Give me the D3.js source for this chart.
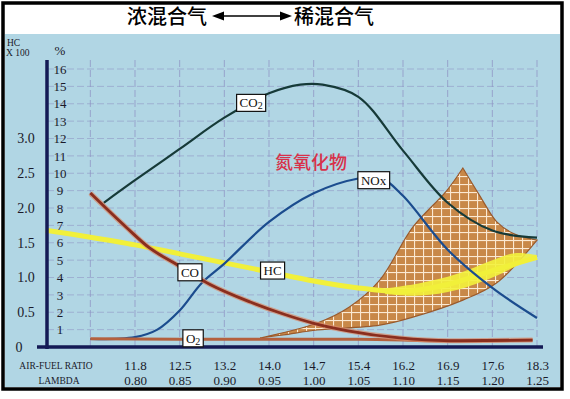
<!DOCTYPE html>
<html>
<head>
<meta charset="utf-8">
<script src="https://cdn.jsdelivr.net/npm/d3@7"></script>
<style>
body { margin: 0; background: #fff; }
svg { display: block; }
</style>
</head>
<body>
<svg id="chart" width="570" height="399"></svg>
<script>
// tick labels
const afrLabels = ['11.8', '12.5', '13.2', '14.0', '14.7', '15.4', '16.2', '16.9', '17.6', '18.3'];
const lambdaTicks = [0.80, 0.85, 0.90, 0.95, 1.00, 1.05, 1.10, 1.15, 1.20, 1.25];
const pctTicks = [1, 2, 3, 4, 5, 6, 7, 8, 9, 10, 11, 12, 13, 14, 15, 16];
const hcTicks = [0.5, 1.0, 1.5, 2.0, 2.5, 3.0];

// curves: [lambda, percent]
const co2 = [[0.765, 8.3], [0.80, 9.6], [0.85, 11.4], [0.90, 13.2], [0.95, 14.6], [0.985, 15.1],
	[1.01, 15.1], [1.05, 14.4], [1.10, 11.3], [1.15, 8.3], [1.20, 6.7], [1.25, 6.3]];
const nox = [[0.75, 0.46], [0.80, 0.57], [0.825, 1.0], [0.85, 2.1], [0.875, 3.7], [0.90, 4.8],
	[0.95, 7.2], [1.00, 8.85], [1.05, 9.7], [1.075, 9.75], [1.10, 8.7], [1.15, 5.6], [1.20, 3.4], [1.25, 1.67]];
const co = [[0.75, 8.86], [0.791, 6.85], [0.817, 5.67], [0.843, 4.86], [0.884, 3.6], [0.929, 2.59],
	[0.966, 1.9], [0.999, 1.38], [1.04, 0.92], [1.096, 0.52], [1.152, 0.36], [1.245, 0.40]];
const o2 = [[0.75, 0.48], [0.85, 0.45], [0.95, 0.45], [1.05, 0.45], [1.15, 0.35], [1.245, 0.4]];
// HC in units of x100
const hc = [[0.70, 1.68], [0.75, 1.58], [0.80, 1.47], [0.85, 1.34], [0.90, 1.21], [0.95, 1.08],
	[1.00, 0.95], [1.05, 0.85], [1.10, 0.80], [1.15, 0.90], [1.20, 1.10], [1.25, 1.29]];
const hcUpper = [[1.08, 0.84], [1.12, 0.92], [1.16, 1.05], [1.20, 1.25], [1.225, 1.35], [1.25, 1.32]];
const hcLower = [[1.08, 0.76], [1.12, 0.74], [1.16, 0.82], [1.20, 1.00], [1.225, 1.15], [1.25, 1.29]];
// NOx spread band (percent)
const bandTop = [[0.94, 0.52], [1.004, 1.38], [1.04, 2.3], [1.074, 3.85], [1.111, 6.9], [1.149, 9.0], [1.167, 10.3]];
const bandRight = [[1.167, 10.3], [1.186, 8.7], [1.205, 7.2], [1.223, 6.55], [1.25, 6.15]];
const bandBottom = [[1.25, 6.15], [1.205, 3.7], [1.167, 2.7], [1.111, 1.72], [1.074, 1.26], [1.004, 0.98], [0.966, 0.69], [0.94, 0.52]];

const boxLabels = [
	{ name: 'CO', sub: '2', at: [0.930, 14.05] },
	{ name: 'NOx', sub: '', at: [1.067, 9.6] },
	{ name: 'CO', sub: '', at: [0.8615, 4.3] },
	{ name: 'HC', sub: '', at: [0.954, 4.4] },
	{ name: 'O', sub: '2', at: [0.865, 0.5] }
];

const svg = d3.select('#chart');
const serif = 'Liberation Serif, DejaVu Serif, serif';
const cjk = 'Noto Sans CJK SC, sans-serif';

let x = d3.scaleLinear().domain([0.80, 1.25]).range([135, 537]);
let y = d3.scaleLinear().domain([0, 16]).range([347, 69]);
let yHC = d3.scaleLinear().domain([0, 4]).range([347, 69]);

// frame + panels
svg.append('rect').attr('x', 3).attr('y', 3).attr('width', 559).attr('height', 386)
	.attr('fill', '#fff').attr('stroke', '#000').attr('stroke-width', 3.5);
svg.append('rect').attr('x', 5).attr('y', 34).attr('width', 555).attr('height', 353)
	.attr('fill', '#b1d6e4');

// header
svg.append('text').attr('x', 167).attr('y', 24).attr('text-anchor', 'middle')
	.style('font-family', cjk).style('font-size', '20px').style('font-weight', 500)
	.text('浓混合气');
svg.append('text').attr('x', 334).attr('y', 24).attr('text-anchor', 'middle')
	.style('font-family', cjk).style('font-size', '20px').style('font-weight', 500)
	.text('稀混合气');
svg.append('line').attr('x1', 222).attr('x2', 282).attr('y1', 16).attr('y2', 16)
	.attr('stroke', '#000').attr('stroke-width', 1.5);
svg.append('path').attr('d', 'M212,16 L224,11.5 L224,20.5 Z').attr('fill', '#000');
svg.append('path').attr('d', 'M292,16 L280,11.5 L280,20.5 Z').attr('fill', '#000');

// grid
const gridLam = [0.75].concat(lambdaTicks);
svg.append('g').selectAll('line').data(gridLam).enter().append('line')
	.attr('x1', d => x(d)).attr('x2', d => x(d))
	.attr('y1', 60).attr('y2', y(0))
	.attr('stroke', '#8f93c4').attr('stroke-width', 1).attr('stroke-dasharray', '7,3').attr('opacity', 0.75);
svg.append('g').selectAll('line').data(pctTicks).enter().append('line')
	.attr('x1', 47).attr('x2', x(1.25))
	.attr('y1', d => y(d)).attr('y2', d => y(d))
	.attr('stroke', '#8f93c4').attr('stroke-width', 1).attr('stroke-dasharray', '7,3').attr('opacity', 0.55);

// hatched band
const defs = svg.append('defs');
const pat = defs.append('pattern').attr('id', 'hatch').attr('patternUnits', 'userSpaceOnUse')
	.attr('width', 9).attr('height', 8);
pat.append('rect').attr('width', 9).attr('height', 8).attr('fill', '#c88848');
pat.append('line').attr('x1', 0.5).attr('x2', 0.5).attr('y1', 0).attr('y2', 8).attr('stroke', '#fbe9d2').attr('stroke-width', 1.2);
pat.append('line').attr('x1', 0).attr('x2', 9).attr('y1', 0.5).attr('y2', 0.5).attr('stroke', '#fbe9d2').attr('stroke-width', 1.2);

const smooth = d3.line().x(d => x(d[0])).y(d => y(d[1])).curve(d3.curveCatmullRom.alpha(0.5));
const mono = d3.line().x(d => x(d[0])).y(d => y(d[1])).curve(d3.curveMonotoneX);
const smoothHC = d3.line().x(d => x(d[0])).y(d => yHC(d[1])).curve(d3.curveCatmullRom.alpha(0.5));

let bandPath = smooth(bandTop) + smooth(bandRight).replace(/^M/, 'L') + smooth(bandBottom).replace(/^M/, 'L') + 'Z';
svg.append('path').attr('d', bandPath).attr('fill', 'url(#hatch)')
	.attr('stroke', '#9a5a2c').attr('stroke-width', 1.2);

// HC
svg.append('path')
	.attr('d', smoothHC(hcUpper) + smoothHC(hcLower.slice().reverse()).replace(/^M/, 'L') + 'Z')
	.attr('fill', '#f3f23c').attr('opacity', 0.9);
svg.append('path').attr('d', smoothHC(hc)).attr('fill', 'none')
	.attr('stroke', '#f1f03a').attr('stroke-width', 5);

// CO2, NOx
svg.append('path').attr('d', smooth(co2)).attr('fill', 'none')
	.attr('stroke', '#163a38').attr('stroke-width', 2.2);
svg.append('path').attr('d', smooth(nox)).attr('fill', 'none')
	.attr('stroke', '#1b4c8e').attr('stroke-width', 2.2);

// O2, CO
svg.append('path').attr('d', mono(o2)).attr('fill', 'none')
	.attr('stroke', '#b4613e').attr('stroke-width', 3);
svg.append('path').attr('d', mono(co)).attr('fill', 'none')
	.attr('stroke', '#d88a6a').attr('stroke-width', 5).attr('opacity', 0.7);
svg.append('path').attr('d', mono(co)).attr('fill', 'none')
	.attr('stroke', '#8a2e1e').attr('stroke-width', 2.8);

// axes lines
svg.append('line').attr('x1', 47).attr('x2', 47).attr('y1', 60).attr('y2', 349)
	.attr('stroke', '#141a55').attr('stroke-width', 3.5);
svg.append('line').attr('x1', 37).attr('x2', 543).attr('y1', y(0)).attr('y2', y(0))
	.attr('stroke', '#141a55').attr('stroke-width', 3.5);

// y axis labels
let pctAxis = svg.append('g').attr('transform', 'translate(67,0)')
	.call(d3.axisLeft(y).tickValues(pctTicks).tickSize(0).tickFormat(d3.format('d')));
pctAxis.select('.domain').remove();
pctAxis.selectAll('text').attr('text-anchor', 'middle').attr('x', -7)
	.style('font-family', serif).style('font-size', '13px').attr('fill', '#1a1a2a');

let hcAxis = svg.append('g').attr('transform', 'translate(26,0)')
	.call(d3.axisLeft(yHC).tickValues(hcTicks).tickSize(0).tickFormat(d3.format('.1f')));
hcAxis.select('.domain').remove();
hcAxis.selectAll('text').attr('text-anchor', 'middle').attr('x', 0)
	.style('font-family', serif).style('font-size', '14px').attr('fill', '#1a1a2a');

svg.append('text').attr('x', 19).attr('y', 352).attr('text-anchor', 'middle')
	.style('font-family', serif).style('font-size', '14px').attr('fill', '#1a1a2a').text('0');
svg.append('text').attr('x', 60).attr('y', 55).attr('text-anchor', 'middle')
	.style('font-family', serif).style('font-size', '13px').attr('fill', '#1a1a2a').text('%');
svg.append('text').attr('x', 7).attr('y', 46)
	.style('font-family', serif).style('font-size', '9.5px').attr('fill', '#1a1a2a').text('HC');
svg.append('text').attr('x', 6).attr('y', 56)
	.style('font-family', serif).style('font-size', '9.5px').attr('fill', '#1a1a2a').text('X 100');

// x axis labels
let afrAxis = svg.append('g').attr('transform', 'translate(0,358)')
	.call(d3.axisBottom(x).tickValues(lambdaTicks).tickSize(0).tickFormat((d, i) => afrLabels[i]));
afrAxis.select('.domain').remove();
afrAxis.selectAll('text').style('font-family', serif).style('font-size', '13px').attr('fill', '#1a1a2a');

let lamAxis = svg.append('g').attr('transform', 'translate(0,373)')
	.call(d3.axisBottom(x).tickValues(lambdaTicks).tickSize(0).tickFormat(d3.format('.2f')));
lamAxis.select('.domain').remove();
lamAxis.selectAll('text').style('font-family', serif).style('font-size', '13px').attr('fill', '#1a1a2a');

svg.append('text').attr('x', 56).attr('y', 369).attr('text-anchor', 'middle')
	.style('font-family', serif).style('font-size', '9.5px').attr('fill', '#1a1a2a').text('AIR-FUEL RATIO');
svg.append('text').attr('x', 59).attr('y', 384).attr('text-anchor', 'middle')
	.style('font-family', serif).style('font-size', '9.5px').attr('fill', '#1a1a2a').text('LAMBDA');

// boxed labels
boxLabels.forEach(b => {
	let g = svg.append('g').attr('transform', `translate(${x(b.at[0])},${y(b.at[1])})`);
	let rect = g.append('rect');
	let t = g.append('text').attr('text-anchor', 'middle').attr('dy', '0.35em')
		.style('font-family', serif).style('font-size', '13px').attr('fill', '#111');
	t.append('tspan').text(b.name);
	if (b.sub) {
		t.append('tspan').attr('dy', '0.2em').style('font-size', '10px').text(b.sub);
	}
	let bb = t.node().getBBox();
	rect.attr('x', bb.x - 3).attr('y', -8.5).attr('width', bb.width + 6).attr('height', 17)
		.attr('fill', '#fff').attr('stroke', '#111').attr('stroke-width', 1.2);
});

// red annotation
svg.append('text').attr('x', x(0.997)).attr('y', y(10.6)).attr('dy', '0.35em')
	.attr('text-anchor', 'middle')
	.style('font-family', cjk).style('font-size', '18px').style('font-weight', 500)
	.attr('fill', '#d8314a').text('氮氧化物');
</script>
</body>
</html>
